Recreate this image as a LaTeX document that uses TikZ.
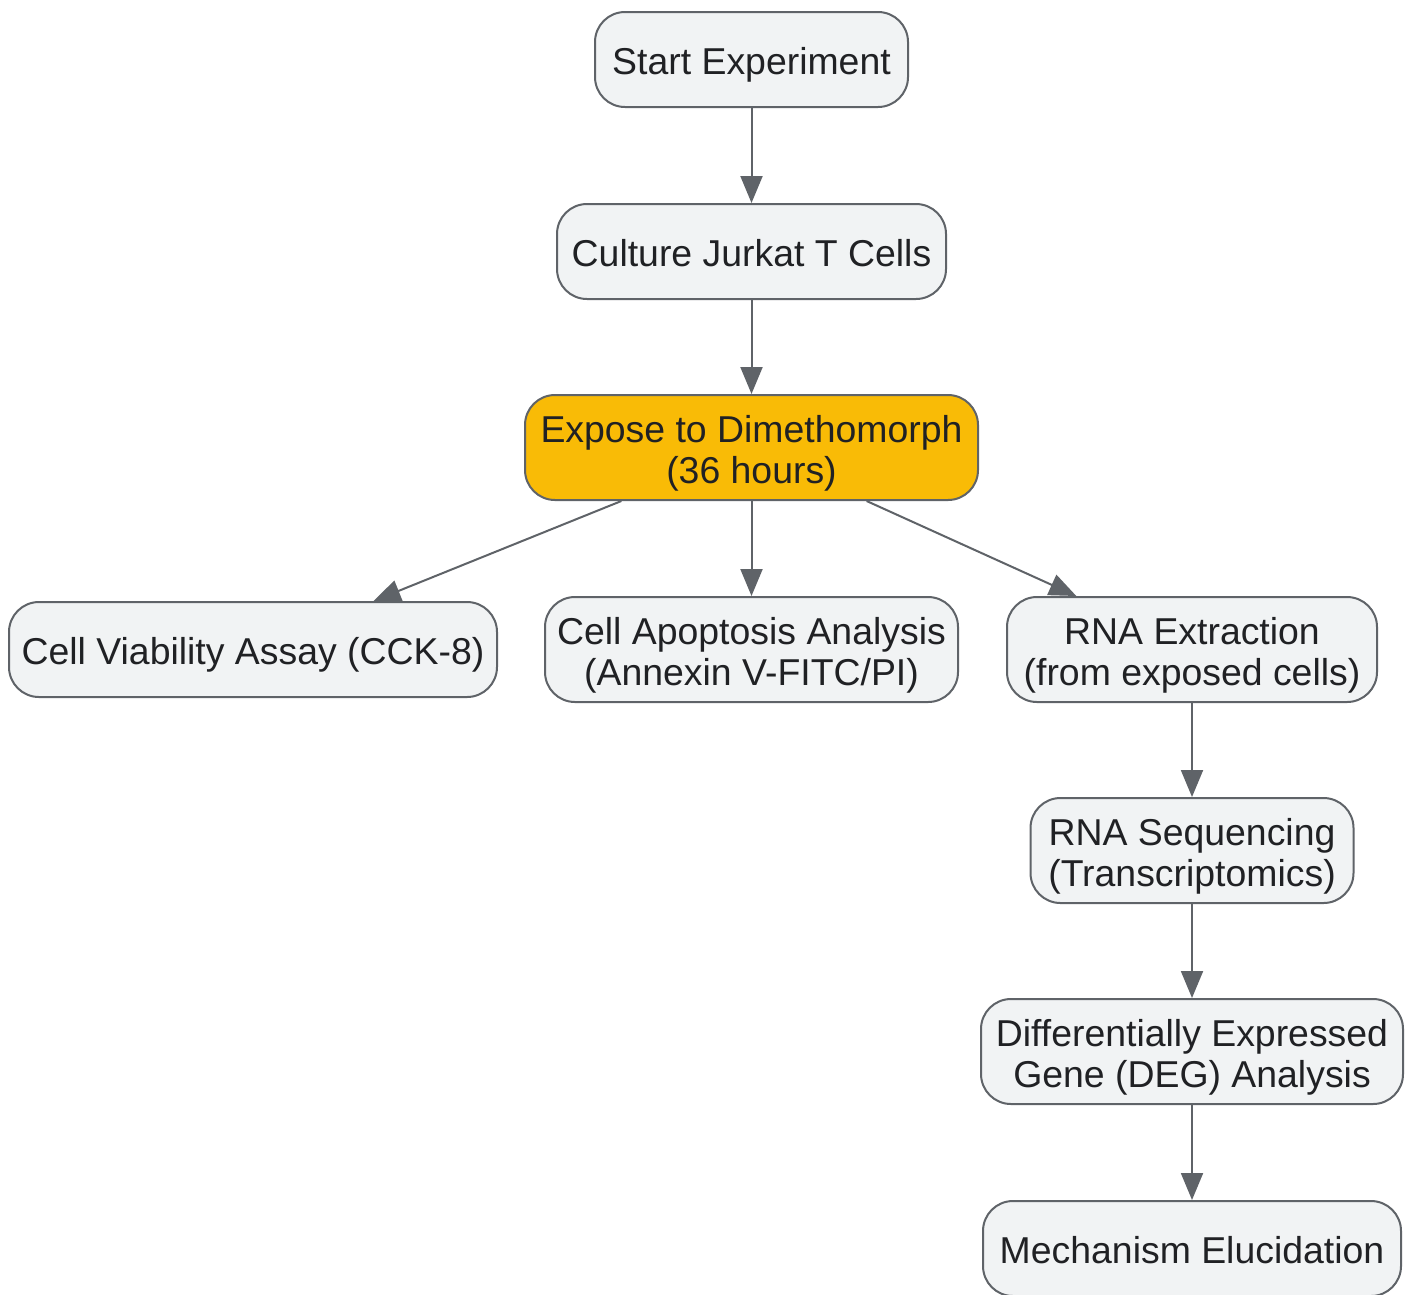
\documentclass[tikz,border=0pt]{standalone}
\usepackage{fontspec}
\setmainfont{Liberation Sans}
\usepackage{tikz}
\usetikzlibrary{positioning,arrows.meta,calc}

\definecolor{boxfill}{HTML}{F1F3F4}
\definecolor{boxline}{HTML}{5F6368}
\definecolor{exposefill}{HTML}{F9BB06}
\definecolor{txtcol}{HTML}{202124}

\begin{document}
\begin{tikzpicture}[
  stage/.style={draw=boxline, line width=2pt, fill=boxfill, rounded corners=30pt,
    align=center, text=txtcol, inner xsep=6pt, inner ysep=4pt, minimum height=95pt,
    font=\fontsize{37.4}{41.5}\selectfont,
    execute at begin node=\rule{0pt}{38pt},
    execute at end node=\rule[-9pt]{0pt}{9pt}},
  stagetwo/.style={stage, minimum height=105pt, execute at begin node=\rule{0pt}{81pt}},
  flow/.style={draw=boxline, line width=2pt, -{Triangle[length=27pt,width=22pt]}}
]
\useasboundingbox (0pt,0pt) rectangle (1412pt,-1294pt);
\node[stage, minimum width=313pt] (start) at (751.5pt,-59.5pt) {Start Experiment};
\node[stage, minimum width=389pt, below=95pt of start] (culture) {Culture Jurkat T Cells};
\node[stagetwo, minimum width=453pt, fill=exposefill, below=94pt of culture] (expose) {Expose to Dimethomorph\\(36 hours)};
%----------------------------------
\node[stagetwo, minimum width=413pt, below=95pt of expose] (apoptosis) {Cell Apoptosis Analysis\\(Annexin V-FITC/PI)};
\node[stage, minimum width=488pt, left=46pt of apoptosis] (viability) {Cell Viability Assay (CCK-8)};
\node[stagetwo, minimum width=370pt, right=47pt of apoptosis] (rnaext) {RNA Extraction\\(from exposed cells)};
%----------------------------------
\node[stagetwo, minimum width=323pt, below=94pt of rnaext] (rnaseq) {RNA Sequencing\\(Transcriptomics)};
\node[stagetwo, minimum width=422pt, below=94pt of rnaseq] (deg) {Differentially Expressed\\Gene (DEG) Analysis};
\node[stage, minimum width=418pt, below=95pt of deg] (mech) {Mechanism Elucidation};
%----------------------------------
\coordinate (ex1) at ($(expose.south west)!0.214!(expose.south east)$);
\coordinate (ex2) at ($(expose.south west)!0.753!(expose.south east)$);
\coordinate (vi) at ($(viability.north west)!0.746!(viability.north east)$);
\coordinate (rn) at ($(rnaext.north west)!0.189!(rnaext.north east)$);
\draw[flow] (start) -- (culture);
\draw[flow] (culture) -- (expose);
\draw[flow] (expose) -- (apoptosis);
\draw[flow] (ex1) -- (vi);
\draw[flow] (ex2) -- (rn);
\draw[flow] (rnaext) -- (rnaseq);
\draw[flow] (rnaseq) -- (deg);
\draw[flow] (deg) -- (mech);
\end{tikzpicture}
\end{document}
